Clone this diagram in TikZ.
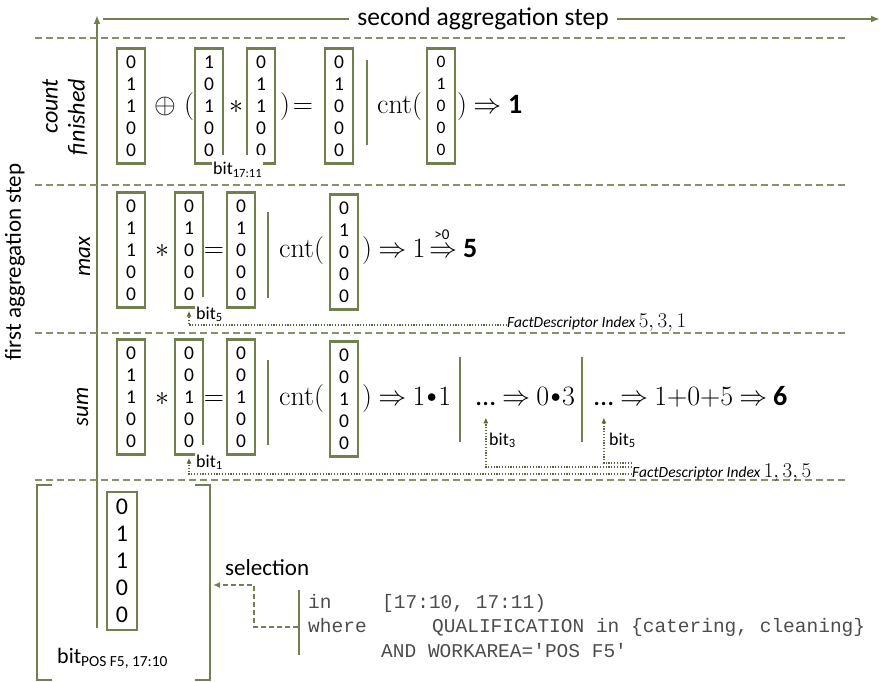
\RequirePackage{fix-cm}
\documentclass[tikz,border=0pt]{standalone}
\usepackage{amsmath}
\usepackage[no-math]{fontspec}
\setmainfont{Carlito}
\setmonofont{Liberation Mono}
\usetikzlibrary{arrows.meta,positioning}

\definecolor{aggolive}{RGB}{112,128,78}
\newcommand{\vcol}[5]{#1\\#2\\#3\\#4\\#5}
\newcommand{\fsz}[2]{\fontsize{#1}{#2}\selectfont}
\newcommand{\imp}{\mskip4mu{\Rightarrow}\mskip4mu}
\newcommand{\dotop}{\mskip1mu\vcenter{\hbox{$\scriptstyle\bullet$}}\mskip1mu}

\tikzset{
  bitvec/.style={draw=aggolive, line width=2.4pt, minimum width=28pt, minimum height=115pt,
    inner sep=0pt, align=center, font=\fsz{19.5}{22}},
  axline/.style={aggolive, line width=2pt},
  axtip/.style={-{Latex[length=9pt,width=7pt]}},
  axtext/.style={font=\fsz{25.5}{28}, inner sep=8pt},
  sepline/.style={aggolive!85, line width=1.6pt, dash pattern=on 7pt off 4pt},
  eqbar/.style={aggolive, line width=2pt},
  rowlbl/.style={rotate=90, font=\fsz{23}{27}\itshape, inner sep=0pt},
  mth/.style={font=\fsz{28}{32}, inner sep=0pt, anchor=base},
  res/.style={font=\fsz{28}{30}\bfseries, inner sep=0pt, anchor=base west},
  bitlbl/.style={font=\fsz{18}{20}, inner sep=1pt, anchor=base west},
  fdlbl/.style={font=\fsz{15.5}{18}\itshape, inner sep=0pt, anchor=base west},
  fdline/.style={aggolive!80!black, line width=1.3pt, dash pattern=on 1.2pt off 1.6pt,
    -{Latex[length=6pt,width=5pt]}},
  selline/.style={aggolive, line width=1.5pt, dash pattern=on 5pt off 3pt,
    -{Latex[length=7pt,width=6pt]}},
  code/.style={font=\fsz{19.5}{24}\ttfamily, text=black!70, inner sep=0pt, anchor=base west}
}

\begin{document}
\begin{tikzpicture}[x=1pt,y=-1pt]
\useasboundingbox (0,0) rectangle (887,682);

% aggregation axes
\node[axtext] (sec) at (483,19) {second aggregation step};
\draw[axline] (103,19) -- (sec.west);
\draw[axline,axtip] (sec.east) -- (880,19);
\draw[axline,axtip] (97,628) -- (97,15);
\node[axtext,rotate=90,inner sep=0pt,font=\fsz{23}{26}] (fas) at (15,262) {first aggregation step};

% row separators
\foreach \y in {38,185,333,480}
  \draw[sepline] (35,\y) -- (845,\y);

% row labels
\node[rowlbl, align=right, font=\fsz{24}{27}\itshape] (lcf) at (65,117) {count\\finished};
\node[rowlbl, anchor=base] (lmx) at (90,257) {max};
\node[rowlbl, anchor=base] (lsm) at (88,407) {sum};

% count finished
\node[bitvec] (cfa) at (131,106) {\vcol{0}{1}{1}{0}{0}};
\node[bitvec] (cfb) at (209,106) {\vcol{1}{0}{1}{0}{0}};
\node[bitvec] (cfc) at (261,106) {\vcol{0}{1}{1}{0}{0}};
\node[bitvec] (cfd) at (339,106) {\vcol{0}{1}{0}{0}{0}};
\node[bitvec, font=\fsz{17.5}{22}] (cfe) at (441,106) {\vcol{0}{1}{0}{0}{0}};
\node[mth] (cfop) at (165,114) {$\oplus$};
\node[mth] (cfpl) at (189,114) {$($};
\node[mth] (cfmul) at (236,114) {$*$};
\node[mth] (cfpr) at (285,114) {$)$};
\node[mth] (cfeq) at (303,114) {$=$};
\draw[eqbar] (367,60) -- (367,145);
\node[mth, anchor=base west] (cfcnt) at (377,114) {$\mathrm{cnt}($};
\node[mth, anchor=base west] (cfimp) at (457,114) {$)\imp$};
\node[res] (cfres) at (508,114) {1};
\node[bitlbl, fill=white, text height=19pt] (bcf) at (212,175) {bit\textsubscript{17:11}};

% max
\node[bitvec] (mxa) at (131,250) {\vcol{0}{1}{1}{0}{0}};
\node[bitvec] (mxb) at (189,250) {\vcol{0}{1}{0}{0}{0}};
\node[bitvec] (mxc) at (241,250) {\vcol{0}{1}{0}{0}{0}};
\node[bitvec] (mxd) at (344,252) {\vcol{0}{1}{0}{0}{0}};
\node[mth] (mxmul) at (162,258) {$*$};
\node[mth] (mxeq) at (214,258) {$=$};
\draw[eqbar] (268,212) -- (268,298);
\node[mth, anchor=base west] (mxcnt) at (279,258) {$\mathrm{cnt}($};
\node[mth, anchor=base west] (mximp) at (362,258) {$)\imp 1$};
\node[mth] (mxgt) at (443,258) {$\Rightarrow$};
\node[font=\fsz{15}{16}, inner sep=0pt, anchor=base] (mxgtl) at (442,240) {>0};
\node[res] (mxres) at (463,258) {5};
\node[bitlbl, fill=white, text height=21pt] (bmx) at (195,319) {bit\textsubscript{5}};
\node[fdlbl] (fdmx) at (507,327) {FactDescriptor Index \fsz{21}{22}$5, 3, 1$};
\draw[fdline] ([yshift=2pt]fdmx.base west) -| ([yshift=-2pt]mxb.south);

% sum
\node[bitvec] (sma) at (131,397) {\vcol{0}{1}{1}{0}{0}};
\node[bitvec] (smb) at (189,397) {\vcol{0}{0}{1}{0}{0}};
\node[bitvec] (smc) at (241,397) {\vcol{0}{0}{1}{0}{0}};
\node[bitvec] (smd) at (344,399) {\vcol{0}{0}{1}{0}{0}};
\node[mth] (smmul) at (162,405) {$*$};
\node[mth] (smeq) at (214,405) {$=$};
\draw[eqbar] (268,360) -- (268,445);
\node[mth, anchor=base west] (smcnt) at (279,405) {$\mathrm{cnt}($};
\node[mth, anchor=base west] (smone) at (362,405) {$)\imp 1\dotop1$};
\draw[eqbar] (460,357) -- (460,442);
\node[mth, anchor=base west] (dthree) at (476,405) {…};
\node[mth, anchor=base west] (smthree) at (dthree.base east) {$\imp 0\dotop3$};
\draw[eqbar] (582,357) -- (582,442);
\node[mth, anchor=base west] (dfive) at (594,405) {…};
\node[mth, anchor=base west] (smfive) at (dfive.base east) {$\imp 1{+}0{+}5 \imp$};
\node[res] (smres) at (773,405) {6};
\node[bitlbl, fill=white, text height=21pt] (bsm) at (195,467) {bit\textsubscript{1}};
\node[bitlbl] (bthree) at (488,445) {bit\textsubscript{3}};
\node[bitlbl] (bfive) at (608,445) {bit\textsubscript{5}};
\node[fdlbl] (fdsm) at (632,477) {FactDescriptor Index \fsz{21}{22}$1, 3, 5$};
\draw[fdline] ([yshift=3pt]fdsm.base west) -| ([yshift=-2pt]smb.south);
\draw[fdline] ([yshift=10pt]fdsm.base west) -| ([yshift=-12pt]dthree.south);
\draw[fdline] ([yshift=14pt]fdsm.base west) -| ([yshift=-12pt]dfive.south);

% selection
\draw[eqbar] (52,485) -- (37,485) -- (37,680) -- (52,680);
\draw[eqbar] (195,485) -- (210,485) -- (210,680) -- (195,680);
\node[bitvec, minimum width=30pt, minimum height=138pt, font=\fsz{24}{27}] (pos) at (122,561) {\vcol{0}{1}{1}{0}{0}};
\node[font=\fsz{22}{26}, inner sep=0pt, anchor=base west] (poslbl) at (57,663) {bit\textsubscript{POS F5, 17:10}};
\node[font=\fsz{23}{26}, inner sep=0pt, anchor=base west] (sel) at (225,575) {selection};
\draw[eqbar] (299,590) -- (299,655);
\node[code] (cin) at (308,608) {in};
\node[code] (crange) at (382,608) {[17:10, 17:11)};
\node[code] (cwhere) at (308,632) {where};
\node[code] (cqual) at (432,632) {QUALIFICATION in \{catering, cleaning\}};
\node[code] (carea) at (381,657) {AND WORKAREA='POS F5'};
\coordinate (selsrc) at (298,627);
\coordinate (seltgt) at (213,585);
\draw[selline] (selsrc) -| (254,585) -- (seltgt);
\end{tikzpicture}
\end{document}
